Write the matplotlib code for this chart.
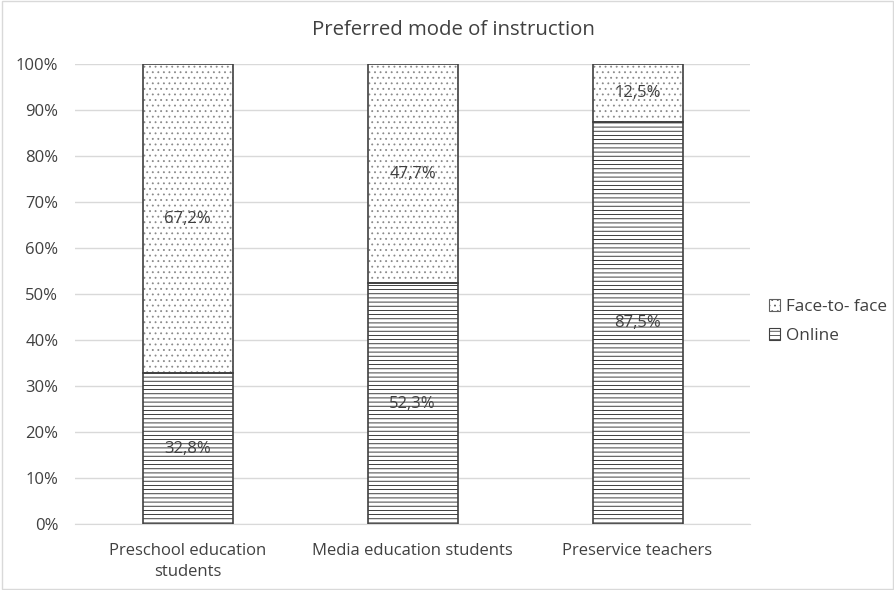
import matplotlib
matplotlib.use("Agg")
import matplotlib.pyplot as plt
from matplotlib.patches import Patch
import numpy as np

plt.rcParams["font.family"] = ["Open Sans", "DejaVu Sans"]
plt.rcParams["hatch.linewidth"] = 0.6

categories = ["Preschool education\nstudents", "Media education students", "Preservice teachers"]
online = [32.8, 52.3, 87.5]
face_to_face = [67.2, 47.7, 12.5]

fig = plt.figure(figsize=(8.95, 5.9), dpi=100)
ax = fig.add_axes([0.0838, 0.1119, 0.7542, 0.7796])

x = np.arange(len(categories))
# hatch layers first, outlines drawn on top
ax.bar(x, online, width=0.4, color="white", edgecolor="#202020",
       hatch="----", linewidth=0, zorder=2)
ax.bar(x, face_to_face, bottom=online, width=0.4, color="white",
       edgecolor="#8a8a8a", hatch="...", linewidth=0, zorder=2)
b1 = ax.bar(x, online, width=0.4, fill=False, edgecolor="#404040",
            linewidth=1.2, zorder=3)
b2 = ax.bar(x, face_to_face, bottom=online, width=0.4, fill=False,
            edgecolor="#404040", linewidth=1.2, zorder=3)

for i in range(len(categories)):
    ax.text(x[i], online[i] / 2, f"{online[i]:.1f}%".replace(".", ","),
            ha="center", va="center", fontsize=12, color="#404040", zorder=4)
    ax.text(x[i], online[i] + face_to_face[i] / 2,
            f"{face_to_face[i]:.1f}%".replace(".", ","),
            ha="center", va="center", fontsize=12, color="#404040", zorder=4)

ax.set_xlim(-0.5, 2.5)
ax.set_ylim(0, 100)
ax.set_yticks(np.arange(0, 101, 10))
ax.set_yticklabels([f"{v}%" for v in range(0, 101, 10)])
ax.set_xticks(x)
ax.set_xticklabels(categories, linespacing=1.35)
ax.tick_params(axis="both", length=0, labelsize=12, colors="#404040")
ax.tick_params(axis="y", pad=12)
ax.tick_params(axis="x", pad=14)
ax.grid(axis="y", color="#d9d9d9", linewidth=1, zorder=0)
for s in ["top", "right", "left"]:
    ax.spines[s].set_visible(False)
ax.spines["bottom"].set_color("#d9d9d9")

fig.text(0.507, 0.949, "Preferred mode of instruction", fontsize=14.7,
         color="#404040", ha="center", va="center")

h_face = Patch(facecolor="white", edgecolor="#606060", hatch="...", linewidth=0.8)
h_online = Patch(facecolor="white", edgecolor="#404040", hatch="----", linewidth=0.8)
leg = fig.legend([h_face, h_online], ["Face-to- face", "Online"], loc="center left",
                 bbox_to_anchor=(0.85, 0.455), frameon=False, fontsize=12.3,
                 handlelength=0.65, handleheight=0.65, handletextpad=0.35,
                 labelspacing=0.75, borderpad=0)
for t in leg.get_texts():
    t.set_color("#404040")

fig.patches.append(plt.Rectangle((0.002, 0.002), 0.996, 0.996, transform=fig.transFigure,
                                 fill=False, edgecolor="#d9d9d9", linewidth=1))

fig.savefig("out.png", dpi=100)
